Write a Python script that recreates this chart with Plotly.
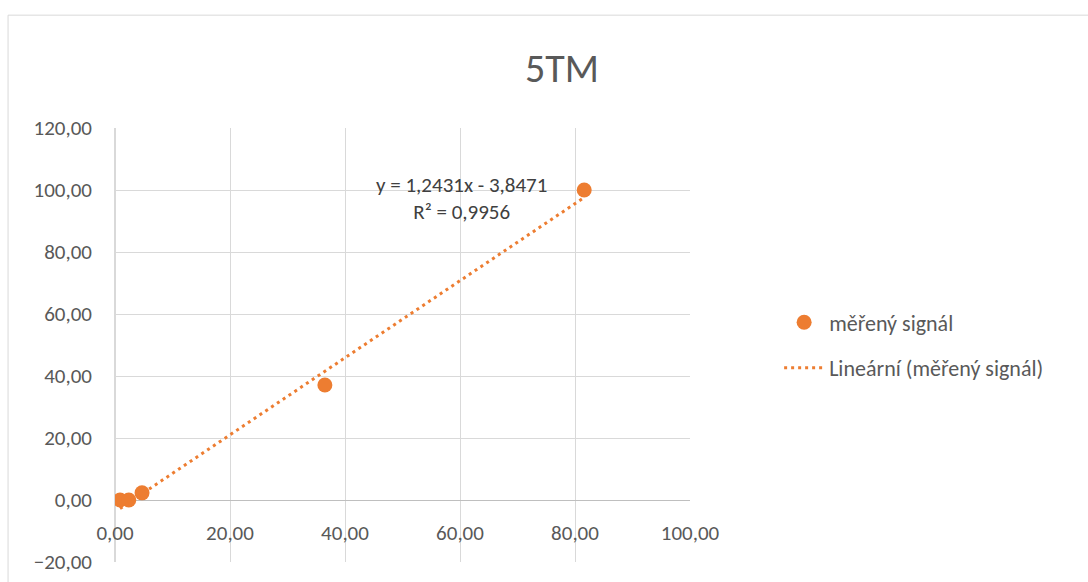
import plotly.graph_objects as go

# data
x_vals = [0.87, 2.4, 4.7, 36.5, 81.6]
y_vals = [0.0, 0.0, 2.3, 37.1, 100.0]
slope = 1.2431
intercept = -3.8471
r2 = 0.9956
x_ticks = [0, 20, 40, 60, 80, 100]
y_ticks = [-20, 0, 20, 40, 60, 80, 100, 120]

orange = "#ED7D31"
txt = "#595959"
grid = "#D9D9D9"
font_family = "Carlito, Calibri, Lato, 'Open Sans', sans-serif"

x_fit = [min(x_vals), max(x_vals)]
y_fit = [slope * v + intercept for v in x_fit]

fig = go.Figure()
fig.add_trace(go.Scatter(x=x_vals, y=y_vals, mode="markers", name="měřený signál",
                         legendgroup="g1",
                         marker=dict(color=orange, size=15)))
fig.add_trace(go.Scatter(x=x_fit, y=y_fit, mode="lines", name="Lineární (měřený signál)",
                         legendgroup="g2",
                         line=dict(color=orange, width=3, dash="3px,4px")))

eq = "y = {}x - {}<br>R² = {}".format(f"{slope:.4f}".replace(".", ","),
                                      f"{-intercept:.4f}".replace(".", ","),
                                      f"{r2:.4f}".replace(".", ","))
fig.add_annotation(x=60.3, y=97.3, xref="x", yref="y", text=eq, showarrow=False,
                   font=dict(size=21, color="#404040", family=font_family), align="center")

fig.add_shape(type="rect", xref="paper", yref="paper", x0=-0.186, x1=2.0, y0=-0.3, y1=1.26,
              line=dict(color="#D9D9D9", width=1), fillcolor="rgba(0,0,0,0)", layer="below")

fig.update_layout(
    width=1088, height=582,
    margin=dict(l=115, r=398, t=128, b=20, autoexpand=False),
    paper_bgcolor="white", plot_bgcolor="white",
    separators=", ",
    font=dict(family=font_family, color=txt, size=21),
    title=dict(text="5TM", x=(562 - 115) / 575, xref="paper", xanchor="center",
               y=1 - 68 / 582, yref="container", yanchor="middle",
               font=dict(size=40, color=txt, family=font_family)),
    showlegend=True,
    legend=dict(x=1.155, xanchor="left", y=0.499, yanchor="middle", bgcolor="rgba(0,0,0,0)",
                font=dict(size=22, color=txt), itemwidth=40, tracegroupgap=14),
    xaxis=dict(range=[0, 100], tickvals=x_ticks, tickformat=".2f", showgrid=True,
               gridcolor=grid, gridwidth=1, zeroline=True, zerolinecolor=grid,
               showline=False, anchor="free", position=20 / 140, ticks="",
               automargin=False,
               ticklabelstandoff=18, tickfont=dict(size=21, color=txt)),
    yaxis=dict(range=[-20, 120], tickvals=y_ticks, tickformat=".2f", showgrid=True,
               gridcolor=grid, gridwidth=1, zeroline=True, zerolinecolor="#BFBFBF",
               zerolinewidth=1, showline=False, ticks="", ticklabelstandoff=22,
               automargin=False,
               tickfont=dict(size=21, color=txt)),
)

fig.write_html("out.html", config={"displayModeBar": False},
               post_script="document.body.style.margin='0';")
